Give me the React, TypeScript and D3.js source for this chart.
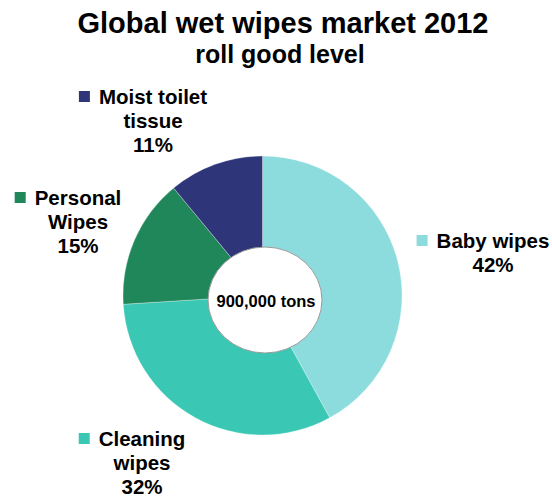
import React from "react";
import * as d3 from "d3";

const categories = ["Baby wipes", "Cleaning wipes", "Personal Wipes", "Moist toilet tissue"];
const shares = [42, 32, 15, 11];
const colors = ["#8CDCDD", "#3AC8B5", "#1F875A", "#2E3679"];
const labelLines = [["Baby wipes", "42%"], ["Cleaning", "wipes", "32%"], ["Personal", "Wipes", "15%"], ["Moist toilet", "tissue", "11%"]];
const titleText = "Global wet wipes market 2012";
const subtitleText = "roll good level";
const centerText = "900,000 tons";

const W = 552, H = 497;
const cx = 262.5, cy = 295.5, R = 139.5;
// label block anchors (center x, first baseline y)
const labelPos = [
  { x: 493, y: 248 },
  { x: 142, y: 446 },
  { x: 78, y: 205 },
  { x: 153, y: 104 },
];
const lineH = 24;
const font = "'Liberation Sans', Arial, sans-serif";

export default function App() {
  const pie = d3.pie<number>().sort(null).value((d) => d)(shares);
  const arc = d3.arc<d3.PieArcDatum<number>>().innerRadius(0).outerRadius(R);
  const fontSize = 20.5;
  return (
    <svg width={W} height={H} style={{ position: "absolute", left: 0, top: 0 }} fontFamily={font}>
      <rect width={W} height={H} fill="#fff" />
      <text x={283} y={33} textAnchor="middle" fontSize={29} fontWeight="bold" fill="#000">{titleText}</text>
      <text x={280} y={63} textAnchor="middle" fontSize={25} fontWeight="bold" fill="#000">{subtitleText}</text>
      <g transform={`translate(${cx},${cy})`}>
        {pie.map((p, i) => (
          <path key={categories[i]} d={arc(p) || ""} fill={colors[i]} stroke="#ffffff" strokeOpacity={0.5} strokeWidth={0.6} />
        ))}
      </g>
      <ellipse cx={265} cy={300} rx={57} ry={53} fill="#fff" stroke="#9a9a9a" strokeWidth={1} />
      <text x={266} y={307} textAnchor="middle" fontSize={16.5} fontWeight="bold" fill="#000">{centerText}</text>
      {labelLines.map((lines, i) => {
        const pos = labelPos[i];
        return (
          <g key={"lbl" + i}>
            {lines.map((ln, j) => (
              <text key={j} x={pos.x} y={pos.y + j * lineH} textAnchor="middle" fontSize={fontSize} fontWeight="bold" fill="#000"
                ref={j === 0 ? (el) => {
                  if (el) {
                    const sq = el.parentNode?.querySelector("rect");
                    const bb = el.getBBox();
                    if (sq) { sq.setAttribute("x", String(bb.x - 20)); }
                  }
                } : undefined}
              >{ln}</text>
            ))}
            <rect x={pos.x - 70} y={pos.y - 13} width={11} height={11} fill={colors[i]} />
          </g>
        );
      })}
    </svg>
  );
}
